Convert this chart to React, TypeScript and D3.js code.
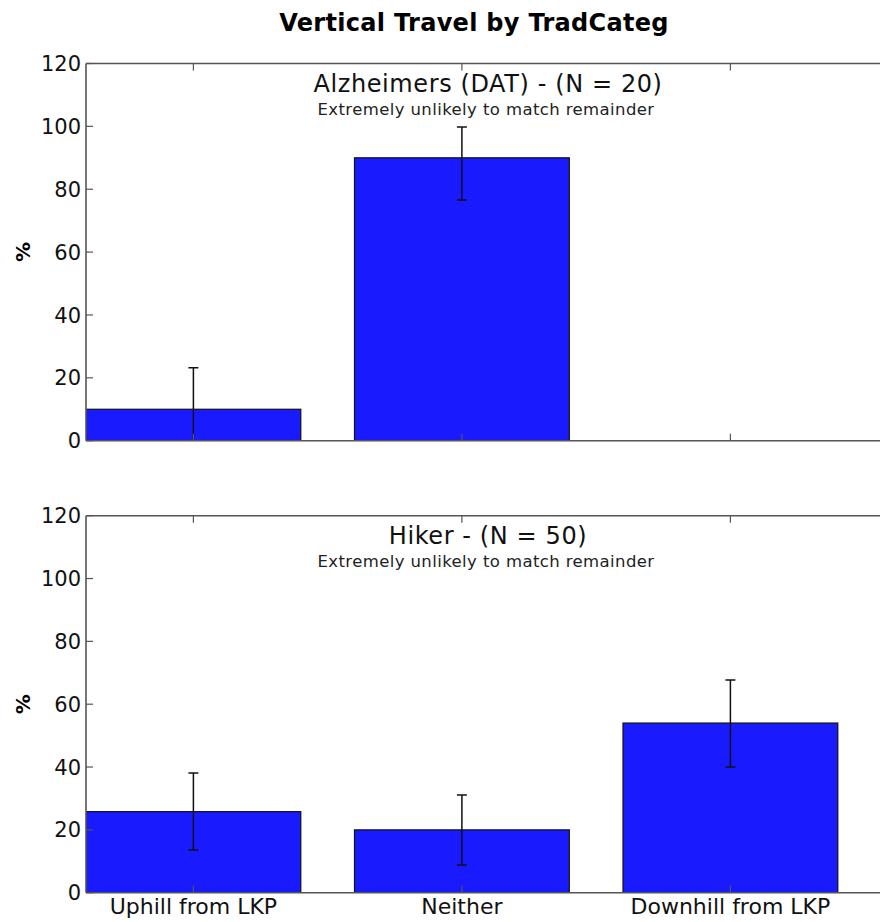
import React from "react";
import * as d3 from "d3";

const categories = ["Uphill from LKP", "Neither", "Downhill from LKP"];
const panelTitles = ["Alzheimers (DAT) - (N = 20)", "Hiker - (N = 50)"];
const panelSubtitles = ["Extremely unlikely to match remainder", "Extremely unlikely to match remainder"];
const alzValues = [10, 90, 0];
const alzErrLow = [10, 13.4, 0];
const alzErrHigh = [13.2, 9.8, 0];
const hikerValues = [25.8, 20, 54];
const hikerErrLow = [12.2, 11.2, 14];
const hikerErrHigh = [12.3, 11.1, 13.7];
const yTicks = [0, 20, 40, 60, 80, 100, 120];
const chartTitle = "Vertical Travel by TradCateg";

const W = 880;
const H = 922;
const left = 86;
const panels = [
  { top: 63.5, bottom: 440.7, values: alzValues, lo: alzErrLow, hi: alzErrHigh, showX: false },
  { top: 515.7, bottom: 892.7, values: hikerValues, lo: hikerErrLow, hi: hikerErrHigh, showX: true },
];
const font = "DejaVu Sans, sans-serif";

export default function App() {
  const x = d3.scaleLinear().domain([-0.4, 2.9]).range([left, left + 3.3 * 268.5]);
  const barW = x(0.8) - x(0);
  const spine = "#555";
  return (
    <div style={{ position: "absolute", left: 0, top: 0 }}>
      <svg width={W} height={H} style={{ display: "block", background: "#fff" }}>
        <defs>
          {panels.map((p, i) => (
            <clipPath id={`clip${i}`} key={i}>
              <rect x={left} y={p.top} width={W - left + 200} height={p.bottom - p.top} />
            </clipPath>
          ))}
        </defs>
        <text x={474} y={31} textAnchor="middle" fontFamily={font} fontWeight="bold" fontSize={24} letterSpacing={0.3}>
          {chartTitle}
        </text>
        {panels.map((p, i) => {
          const y = d3.scaleLinear().domain([0, 120]).range([p.bottom, p.top]);
          const midY = (p.top + p.bottom) / 2;
          return (
            <g key={i}>
              <g clipPath={`url(#clip${i})`}>
                {p.values.map((v, j) => (
                  <rect
                    key={j}
                    x={x(j - 0.4)}
                    y={y(v)}
                    width={barW}
                    height={y(0) - y(v)}
                    fill="#1a1aff"
                    stroke="#111"
                    strokeWidth={1.2}
                  />
                ))}
                {p.values.map((v, j) => {
                  const cx = x(j);
                  const hi = y(v + p.hi[j]);
                  const lo = y(v - p.lo[j]);
                  return (
                    <g key={"e" + j} stroke="#111" strokeWidth={1.5}>
                      <line x1={cx} x2={cx} y1={hi} y2={lo} />
                      <line x1={cx - 5} x2={cx + 5} y1={hi} y2={hi} />
                      <line x1={cx - 5} x2={cx + 5} y1={lo} y2={lo} />
                    </g>
                  );
                })}
              </g>
              <line x1={left} x2={W} y1={p.top} y2={p.top} stroke={spine} strokeWidth={1.6} />
              <line x1={left} x2={W} y1={p.bottom} y2={p.bottom} stroke={spine} strokeWidth={1.6} />
              <line x1={left} x2={left} y1={p.top} y2={p.bottom} stroke={spine} strokeWidth={1.6} />
              {yTicks.map((t) => (
                <g key={t}>
                  <line x1={left} x2={left + 7} y1={y(t)} y2={y(t)} stroke={spine} strokeWidth={1.2} />
                  <text
                    x={left - 5}
                    y={y(t)}
                    dy="0.36em"
                    textAnchor="end"
                    fontFamily={font}
                    fontSize={21}
                    fill="#111"
                  >
                    {t}
                  </text>
                </g>
              ))}
              {categories.map((c, j) => (
                <g key={c}>
                  <line x1={x(j)} x2={x(j)} y1={p.top} y2={p.top + 7} stroke={spine} strokeWidth={1.2} />
                  <line x1={x(j)} x2={x(j)} y1={p.bottom} y2={p.bottom - 7} stroke={spine} strokeWidth={1.2} />
                  {p.showX && (
                    <text x={x(j)} y={p.bottom + 21} textAnchor="middle" fontFamily={font} fontSize={22} fill="#111">
                      {c}
                    </text>
                  )}
                </g>
              ))}
              <text
                transform={`translate(30,${midY}) rotate(-90)`}
                textAnchor="middle"
                fontFamily={font}
                fontWeight="bold"
                fontSize={20}
              >
                %
              </text>
              <text
                x={488}
                y={p.top + 28}
                textAnchor="middle"
                fontFamily={font}
                fontSize={24}
                letterSpacing={0.6}
                fill="#111"
              >
                {panelTitles[i]}
              </text>
              <text
                x={486}
                y={p.top + 51}
                textAnchor="middle"
                fontFamily={font}
                fontSize={16.5}
                letterSpacing={0.4}
                fill="#222"
              >
                {panelSubtitles[i]}
              </text>
            </g>
          );
        })}
      </svg>
    </div>
  );
}
